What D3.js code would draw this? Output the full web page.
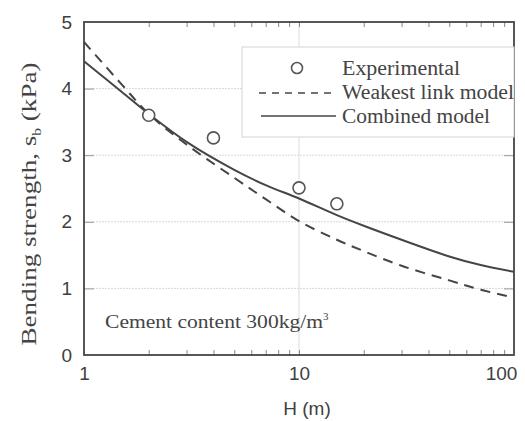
<!DOCTYPE html>
<html><head><meta charset="utf-8">
<script src="https://cdn.jsdelivr.net/npm/d3@7"></script>
<style>
body{margin:0;background:#fff;}
svg{display:block;}
</style></head>
<body><svg id="c" width="525" height="421"></svg>
<script>
// Data
const expH = [2, 4, 10, 15];
const expS = [3.6, 3.26, 2.51, 2.27];
const modelH = [1, 1.5, 2, 3, 5, 7, 10, 15, 20, 30, 50, 70, 100];
const weakestS = [4.70, 4.06, 3.62, 3.16, 2.66, 2.34, 2.01, 1.73, 1.56, 1.34, 1.12, 0.98, 0.86];
const combinedS = [4.41, 3.95, 3.62, 3.20, 2.78, 2.55, 2.35, 2.10, 1.94, 1.73, 1.48, 1.35, 1.25];
const xTicks = [1, 10, 100];
const yTicks = [0, 1, 2, 3, 4, 5];
const xMinor = [2,3,4,5,6,7,8,9,20,30,40,50,60,70,80,90];
const legendLabels = ["Experimental", "Weakest link model", "Combined model"];
const legendWidths = [118, 172, 148];

const svg = d3.select("#c");
const L = 84, R = 514, T = 22, B = 355;
const x = d3.scaleLog().domain([1, 100]).range([L, R]);
const y = d3.scaleLinear().domain([0, 5]).range([B, T]);
const ink = "#454545";
const serif = "Liberation Serif, Times New Roman, serif";
const sans = "Liberation Sans, Arial, sans-serif";

// faint gridlines
const g = svg.append("g");
g.selectAll("line.gy").data([1,2,3,4]).enter().append("line")
  .attr("x1", L).attr("x2", R).attr("y1", d => y(d)).attr("y2", d => y(d))
  .attr("stroke", "#d8d8d8").attr("stroke-width", 1).attr("stroke-dasharray", "2,1");
g.append("line").attr("x1", x(10)).attr("x2", x(10)).attr("y1", T).attr("y2", B)
  .attr("stroke", "#dcdcdc").attr("stroke-width", 1);

// bottom axis labels
const xa = svg.append("g").attr("transform", `translate(0,${B})`)
  .call(d3.axisBottom(x).tickValues(xTicks).tickSize(0).tickPadding(12).tickFormat(d3.format("d")));
xa.select(".domain").remove();
xa.selectAll("text").attr("font-family", sans).attr("font-size", 19).attr("fill", "#404040")
  .attr("dx", d => d === 100 ? -13 : 0);

// minor ticks inside bottom/top
const xb = svg.append("g").attr("transform", `translate(0,${B})`)
  .call(d3.axisBottom(x).tickValues(xMinor.concat([10])).tickSize(-5).tickFormat(""));
xb.select(".domain").remove();
xb.selectAll("line").attr("stroke", "#888");
const xt = svg.append("g").attr("transform", `translate(0,${T})`)
  .call(d3.axisTop(x).tickValues(xMinor.concat([10])).tickSize(-5).tickFormat(""));
xt.select(".domain").remove();
xt.selectAll("line").attr("stroke", "#888");

// left axis
const ya = svg.append("g").attr("transform", `translate(${L},0)`)
  .call(d3.axisLeft(y).tickValues(yTicks).tickSize(0).tickPadding(12).tickFormat(d3.format("d")));
ya.select(".domain").remove();
ya.selectAll("text").attr("font-family", sans).attr("font-size", 19).attr("fill", "#404040");
const yi = svg.append("g").attr("transform", `translate(${L},0)`)
  .call(d3.axisLeft(y).tickValues([1,2,3,4]).tickSize(-10).tickFormat(""));
yi.select(".domain").remove();
yi.selectAll("line").attr("stroke", "#999");
const yr = svg.append("g").attr("transform", `translate(${R},0)`)
  .call(d3.axisRight(y).tickValues([1,2,3,4]).tickSize(-10).tickFormat(""));
yr.select(".domain").remove();
yr.selectAll("line").attr("stroke", "#999");

// frame
svg.append("rect").attr("x", L).attr("y", T).attr("width", R - L).attr("height", B - T)
  .attr("fill", "none").attr("stroke", ink).attr("stroke-width", 1.8);

// clip
svg.append("clipPath").attr("id", "clip").append("rect")
  .attr("x", L).attr("y", T).attr("width", R - L).attr("height", B - T);

const line = d3.line().curve(d3.curveCatmullRom.alpha(0.5)).x(d => x(d[0])).y(d => y(d[1]));
const plot = svg.append("g").attr("clip-path", "url(#clip)");
plot.append("path").datum(modelH.map((h, i) => [h, weakestS[i]]))
  .attr("d", line).attr("fill", "none").attr("stroke", ink).attr("stroke-width", 2)
  .attr("stroke-dasharray", "10,7");
plot.append("path").datum(modelH.map((h, i) => [h, combinedS[i]]))
  .attr("d", line).attr("fill", "none").attr("stroke", ink).attr("stroke-width", 2);

// legend
const lg = svg.append("g");
lg.append("rect").attr("x", 242).attr("y", 47).attr("width", R - 242).attr("height", 90)
  .attr("fill", "#fff").attr("stroke", "#d4d4d4").attr("stroke-width", 1);
lg.append("circle").attr("cx", 297).attr("cy", 68).attr("r", 5.5)
  .attr("fill", "#fff").attr("stroke", "#555").attr("stroke-width", 1.6);
lg.append("line").attr("x1", 259).attr("x2", 336).attr("y1", 93).attr("y2", 93)
  .attr("stroke", ink).attr("stroke-width", 1.6).attr("stroke-dasharray", "7,6");
lg.append("line").attr("x1", 261).attr("x2", 336).attr("y1", 116).attr("y2", 116)
  .attr("stroke", ink).attr("stroke-width", 1.6);
lg.selectAll("text").data(legendLabels).enter().append("text")
  .attr("x", 342).attr("y", (d, i) => 75 + i * 24)
  .attr("font-family", serif).attr("font-size", 20).attr("fill", "#444")
  .attr("textLength", (d, i) => legendWidths[i]).attr("lengthAdjust", "spacingAndGlyphs")
  .text(d => d);

// experimental points
svg.append("g").selectAll("circle").data(expH.map((h, i) => [h, expS[i]])).enter().append("circle")
  .attr("cx", d => x(d[0])).attr("cy", d => y(d[1])).attr("r", 6)
  .attr("fill", "#fff").attr("stroke", "#555").attr("stroke-width", 1.6);

// annotation
const ann = svg.append("text").attr("x", 105).attr("y", 328)
  .attr("font-family", serif).attr("font-size", 18).attr("fill", "#444");
ann.append("tspan").attr("textLength", 218).attr("lengthAdjust", "spacingAndGlyphs").text("Cement content 300kg/m");
ann.append("tspan").attr("font-size", 11).attr("dy", -8).text("3");

// axis titles
svg.append("text").attr("x", 307).attr("y", 415).attr("text-anchor", "middle")
  .attr("font-family", sans).attr("font-size", 19).attr("fill", "#404040")
  .text("H (m)");
const yt = svg.append("text").attr("transform", "translate(36,204) rotate(-90)").attr("text-anchor", "middle")
  .attr("font-family", serif).attr("font-size", 21).attr("fill", "#444")
  .attr("textLength", 283).attr("lengthAdjust", "spacingAndGlyphs");
yt.append("tspan").text("Bending strength,  s");
yt.append("tspan").attr("font-size", 12).attr("dy", 5).text("b");
yt.append("tspan").attr("dy", -5).text(" (kPa)");
</script></body></html>
